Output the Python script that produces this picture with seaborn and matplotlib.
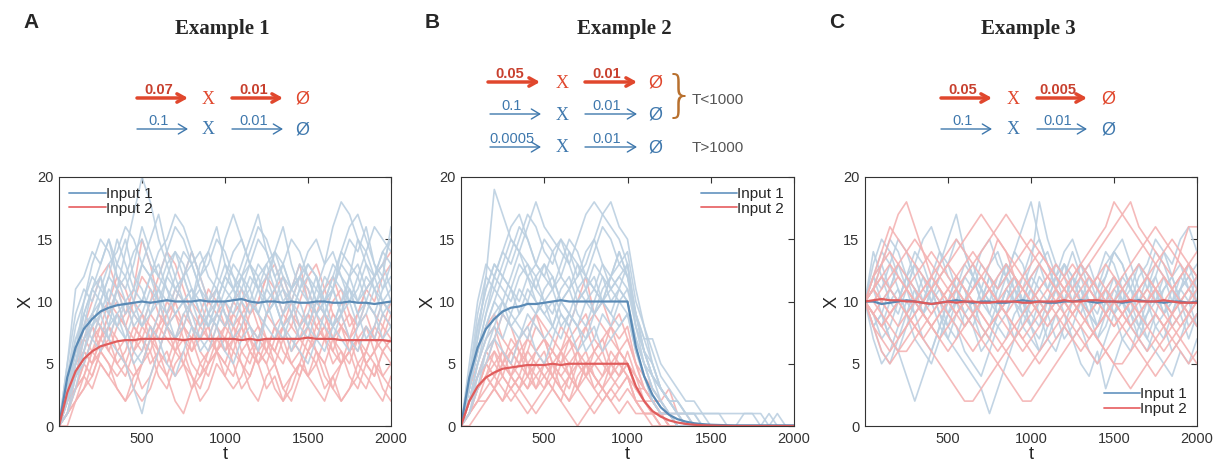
import numpy as np
import pandas as pd
import matplotlib
matplotlib.use("Agg")
import matplotlib.pyplot as plt
from matplotlib.lines import Line2D
import seaborn as sns

# ---------------- data ----------------
t_grid = list(range(0, 2001, 50))

A_in1 = [
 [0,3,6,9,11,12,10,13,15,12,11,9,10,12,14,13,11,10,8,9,11,13,12,10,9,11,14,16,13,11,10,12,9,8,10,12,15,13,11,12,10],
 [0,2,5,7,8,10,12,11,9,10,13,15,17,14,12,10,11,9,8,10,12,11,13,15,17,14,12,10,11,13,12,10,9,11,14,13,12,10,9,11,13],
 [0,4,7,8,11,13,15,12,10,9,8,10,11,9,7,8,10,12,14,16,13,11,10,9,11,10,8,7,9,11,13,12,10,11,9,10,12,14,16,15,14],
 [0,1,4,6,9,10,8,11,14,17,20,18,15,13,11,12,14,12,10,11,9,8,10,12,11,13,14,12,10,9,8,10,11,13,12,11,9,10,12,13,11],
 [0,3,5,8,7,9,11,10,8,6,5,7,9,12,11,10,9,7,6,8,10,9,11,10,12,13,11,9,10,8,7,9,10,12,11,10,8,9,11,10,9],
 [0,2,6,10,12,11,13,14,16,15,13,12,14,15,17,16,14,12,13,15,14,12,11,13,15,14,12,13,11,12,14,15,13,16,18,17,15,14,12,13,15],
 [0,2,4,5,7,6,8,9,7,5,6,8,7,5,4,6,8,7,9,8,6,5,7,8,6,9,10,8,7,6,5,7,6,8,9,7,6,8,7,9,8],
 [0,5,9,11,10,12,9,8,10,11,13,12,10,9,11,12,10,13,14,12,11,10,12,13,11,9,10,8,9,11,12,10,9,11,13,12,10,11,12,10,11],
 [0,3,7,9,8,10,12,15,13,11,10,12,11,13,14,12,10,11,9,10,12,14,15,13,11,12,10,11,9,7,8,10,12,11,13,15,14,16,13,12,16],
 [0,1,3,6,8,9,7,6,5,3,1,4,6,8,9,10,11,9,8,10,12,11,9,8,7,9,10,12,11,10,8,7,9,8,10,11,9,7,8,10,9],
 [0,4,8,10,13,15,14,12,11,13,16,14,12,11,10,12,13,11,10,12,15,17,15,13,12,10,11,13,15,14,12,11,13,14,12,10,11,13,12,14,13],
 [0,2,5,9,11,10,9,11,12,10,8,9,11,10,12,14,13,11,9,8,10,11,12,14,16,15,13,11,10,12,11,9,10,12,14,16,17,15,13,11,12],
 [0,3,6,8,9,11,10,8,7,9,10,12,13,11,9,10,8,6,7,9,8,10,12,11,9,8,7,9,11,12,10,9,8,7,9,11,10,12,11,9,10],
 [0,5,11,12,14,13,15,13,12,14,15,13,12,14,16,15,13,14,12,11,13,12,10,11,13,12,14,13,11,12,13,12,10,11,9,12,13,11,12,14,15],
 [0,2,4,7,9,8,7,9,10,8,9,11,10,8,7,9,10,8,9,11,9,7,8,10,9,11,10,8,6,8,9,11,10,8,7,6,8,10,9,7,8],
]
A_in2 = [
 [0,2,4,6,5,7,8,6,5,7,9,8,6,5,7,8,10,9,7,6,5,7,8,6,7,9,8,6,5,4,6,7,8,6,5,7,8,9,7,6,7],
 [0,1,3,5,7,9,10,12,11,9,8,10,12,14,13,11,9,8,10,11,9,8,7,9,10,12,11,9,8,10,12,13,11,9,8,7,9,11,10,12,13],
 [0,2,3,4,3,5,4,3,2,4,5,6,4,3,5,6,4,2,3,5,4,6,5,3,2,4,5,3,2,4,6,5,3,4,2,3,5,4,3,2,4],
 [0,3,5,6,8,7,9,11,10,8,7,6,8,9,11,10,8,7,9,8,6,7,9,10,8,7,6,8,10,12,11,9,7,8,9,7,6,8,7,9,8],
 [0,1,2,4,6,5,4,6,7,5,3,4,6,8,7,5,4,3,5,6,8,7,5,4,6,7,5,3,4,5,7,6,4,3,5,6,7,5,4,6,5],
 [0,2,5,8,10,12,13,11,9,10,12,11,9,8,10,12,14,12,10,9,8,10,11,9,10,12,13,11,9,8,10,9,11,12,10,8,9,11,12,13,14],
 [0,0,2,3,5,6,5,3,2,3,5,7,6,4,2,1,3,5,4,6,7,5,3,4,6,5,3,2,4,5,4,6,5,3,2,3,4,6,5,3,2],
 [0,3,6,7,6,8,7,9,8,6,7,5,6,8,7,9,8,6,5,7,6,8,9,7,6,5,7,8,6,7,9,8,7,6,8,7,5,6,8,7,6],
 [0,2,4,5,4,6,8,7,5,4,5,7,9,8,6,7,5,4,6,8,7,6,8,10,9,7,6,5,7,6,4,5,7,9,8,6,7,5,4,6,7],
 [0,1,3,4,6,7,6,8,9,11,15,13,10,8,9,7,6,8,7,9,10,8,6,5,7,6,8,9,11,13,10,8,7,5,6,4,3,5,6,4,5],
 [0,3,5,7,9,8,10,9,8,10,9,7,8,10,9,8,7,9,11,10,8,9,10,8,7,9,11,12,10,8,9,7,8,10,11,9,8,10,9,8,10],
 [0,1,2,3,4,6,5,4,5,3,2,3,5,4,6,5,3,4,5,6,4,3,4,6,5,3,4,2,3,5,4,3,2,4,5,6,4,3,5,4,3],
 [0,2,4,7,8,6,7,5,6,8,7,9,8,7,6,8,7,5,6,7,8,10,9,7,8,6,5,7,8,7,6,8,9,7,6,5,7,8,6,7,9],
 [0,2,3,5,7,8,6,5,4,6,8,7,5,6,4,5,7,9,8,6,5,4,6,7,5,6,8,7,5,6,8,10,9,7,5,6,7,5,6,8,7],
 [0,1,4,6,5,7,9,10,8,7,6,8,7,9,10,8,6,7,8,6,7,9,8,6,5,7,6,8,9,7,8,6,5,7,8,9,7,6,8,10,9],
]
B_in1 = [
 [0,4,8,11,13,12,14,16,15,13,12,14,15,13,11,12,14,16,15,13,14,10,8,6,4,3,2,1,1,0,0,0,0,0,0,0,0,0,0,0,0],
 [0,3,7,12,19,17,15,14,16,18,16,15,14,13,15,17,18,17,16,15,13,9,6,4,3,2,1,0,0,0,0,0,0,0,0,0,0,0,0,0,0],
 [0,2,5,7,9,10,8,9,11,10,9,8,10,11,9,8,10,12,11,10,9,7,5,3,2,1,1,0,0,0,0,0,0,0,0,0,0,0,0,0,0],
 [0,4,9,12,11,13,15,14,12,11,13,12,10,11,13,12,11,10,12,14,12,8,5,3,2,1,0,0,0,0,0,0,0,0,0,0,0,0,0,0,0],
 [0,1,4,6,8,7,9,8,7,9,10,8,7,9,8,6,7,9,8,10,11,9,7,7,5,4,3,2,2,1,1,1,1,1,1,1,1,0,1,0,0],
 [0,3,6,9,11,10,12,14,13,11,10,9,11,12,10,11,13,12,10,11,13,8,6,4,2,1,0,0,0,0,0,0,0,0,0,0,0,0,0,0,0],
 [0,2,5,8,10,12,11,9,10,12,13,11,9,8,10,11,9,10,12,14,12,9,6,4,3,2,1,1,0,0,0,0,0,0,0,0,0,0,0,0,0],
 [0,5,10,13,12,14,16,17,15,13,12,11,13,15,14,12,11,13,12,11,10,7,5,3,2,1,1,1,0,0,0,0,0,0,0,0,0,0,0,0,0],
 [0,2,4,5,7,6,5,7,8,6,5,7,9,8,6,7,8,6,7,8,9,6,4,2,1,1,0,0,0,0,0,0,0,0,0,0,0,0,0,0,0],
 [0,3,6,8,10,9,11,13,12,10,9,10,8,9,11,10,9,11,12,13,12,9,6,5,3,2,2,1,1,1,0,0,0,0,0,0,0,1,0,0,0],
 [0,3,6,9,12,14,13,15,17,16,14,13,15,14,12,13,15,17,18,16,15,11,8,5,3,2,1,0,0,0,0,0,0,0,0,0,0,0,0,0,0],
 [0,2,5,7,8,10,9,11,10,9,11,12,10,9,8,10,11,10,9,11,10,7,5,4,3,2,1,1,1,1,1,1,0,0,1,1,0,0,0,0,0],
 [0,4,7,10,12,11,10,12,13,12,10,11,12,14,13,11,12,10,11,12,13,9,7,5,3,2,1,0,0,0,0,0,0,0,0,0,0,0,0,0,0],
 [0,1,3,6,7,9,8,7,9,8,7,8,10,9,8,7,9,10,9,8,9,6,4,2,1,1,0,0,0,0,0,0,0,0,0,0,0,0,0,0,0],
 [0,3,8,11,13,12,11,10,12,13,15,14,12,11,12,14,15,13,11,12,11,8,6,4,3,2,2,1,1,0,0,0,0,0,0,0,0,0,0,0,0],
]
B_in2 = [
 [0,2,3,4,5,6,4,3,5,6,7,5,4,3,5,6,4,3,5,4,5,3,2,1,1,0,0,0,0,0,0,0,0,0,0,0,0,0,0,0,0],
 [0,1,3,5,7,9,8,6,7,9,8,7,6,8,10,12,9,8,7,6,7,5,3,2,1,1,0,0,0,0,0,0,0,0,0,0,0,0,0,0,0],
 [0,1,2,2,3,4,3,2,1,2,3,4,3,2,3,2,1,2,3,2,3,2,1,1,0,0,0,0,0,0,0,0,0,0,0,0,0,0,0,0,0],
 [0,2,4,6,5,4,6,7,5,4,3,5,6,4,3,5,6,7,5,4,6,4,3,2,1,1,0,0,0,0,0,0,0,0,0,0,0,0,0,0,0],
 [0,0,1,2,3,2,4,3,2,1,2,3,2,1,0,1,2,3,2,1,2,1,1,0,0,0,0,0,0,0,0,0,0,0,0,0,0,0,0,0,0],
 [0,3,5,7,8,6,5,7,8,9,7,6,8,7,6,8,9,10,8,7,8,5,4,3,2,1,1,0,0,0,0,0,0,0,0,0,0,0,0,0,0],
 [0,1,3,4,3,5,4,6,5,3,4,5,3,4,6,5,4,3,4,5,4,3,2,2,1,0,0,0,0,0,0,0,0,0,0,0,0,0,0,0,0],
 [0,2,3,5,4,3,2,3,4,5,6,4,3,2,4,5,3,2,3,4,5,3,3,2,2,3,1,1,0,0,0,0,0,0,0,0,0,0,0,0,0],
 [0,1,2,3,4,5,6,5,4,6,7,5,4,5,6,4,5,6,4,3,4,2,1,1,0,0,0,0,0,0,0,0,0,0,0,0,0,0,0,0,0],
 [0,2,4,5,6,4,3,4,6,5,4,3,5,6,7,8,6,5,4,6,5,3,2,1,1,0,0,0,0,0,0,0,0,0,0,0,0,0,0,0,0],
 [0,2,4,6,7,5,4,5,7,6,5,4,6,7,5,4,6,7,8,6,5,4,3,2,1,0,0,0,0,0,0,0,0,0,0,0,0,0,0,0,0],
 [0,1,2,4,3,2,3,4,3,5,4,3,2,4,3,5,4,3,2,3,4,2,1,1,0,0,0,0,0,0,0,0,0,0,0,0,0,0,0,0,0],
 [0,3,6,8,9,7,6,5,6,8,7,6,5,7,8,9,7,6,8,9,7,5,3,2,1,1,0,0,0,0,0,0,0,0,0,0,0,0,0,0,0],
 [0,1,3,5,4,6,5,4,3,4,5,6,5,4,5,4,3,4,6,5,4,2,2,1,1,0,0,0,0,0,0,0,0,0,0,0,0,0,0,0,0],
 [0,2,3,4,6,5,7,6,4,3,5,4,6,5,3,4,5,4,5,6,5,4,2,1,1,1,0,0,0,0,0,0,0,0,0,0,0,0,0,0,0],
]
C_in1 = [
 [10,12,14,13,11,9,10,12,11,9,8,10,12,13,11,10,9,11,12,10,8,7,9,11,13,12,10,9,11,12,14,13,11,10,8,9,11,12,10,9,11],
 [10,8,6,5,7,9,11,10,12,14,13,11,9,10,8,7,9,11,10,12,14,15,13,11,10,12,11,9,8,10,9,7,6,8,10,11,9,10,12,11,10],
 [10,11,9,7,6,4,2,4,6,8,10,12,11,9,7,8,10,12,14,13,11,10,9,11,13,12,10,8,7,9,10,12,11,9,10,8,7,9,11,10,12],
 [10,13,15,14,12,11,13,15,16,14,12,11,10,12,14,15,13,12,14,16,18,15,13,11,10,12,13,11,12,14,13,11,10,12,13,15,14,12,13,11,12],
 [10,9,8,10,11,9,7,6,5,7,9,8,6,5,4,6,8,9,7,8,10,9,7,6,8,7,5,4,6,3,5,7,8,9,7,6,5,4,6,5,7],
 [10,11,12,10,9,11,13,12,10,11,9,10,12,11,13,12,10,9,11,10,12,11,10,12,13,11,10,12,11,9,10,11,12,10,11,13,12,10,11,12,10],
 [10,7,5,6,8,10,9,7,6,8,10,11,9,8,10,12,11,13,12,10,9,8,10,11,9,7,8,6,5,7,9,10,8,7,9,11,10,8,9,7,9],
 [10,12,11,13,15,14,12,10,11,9,7,6,5,4,3,1,3,5,7,9,10,12,11,13,12,10,9,11,10,12,14,13,11,10,12,11,9,10,11,13,12],
 [10,8,9,11,10,12,11,9,8,7,9,10,8,9,11,10,12,13,11,9,8,10,9,7,8,10,11,9,8,10,9,11,10,8,9,10,12,11,9,10,8],
 [10,14,12,11,13,12,10,9,11,13,15,17,14,12,10,11,9,10,12,11,13,18,15,13,12,14,12,10,9,11,12,10,9,11,10,12,14,13,15,16,14],
 [10,12,13,11,10,12,14,13,11,10,9,11,13,12,10,9,11,12,10,9,11,13,14,12,10,11,13,12,10,11,9,10,12,13,11,12,10,9,11,12,13],
 [10,9,7,8,10,12,11,9,10,8,7,9,10,12,11,9,8,7,9,10,8,6,7,9,10,12,11,10,8,9,11,10,9,7,6,8,9,11,10,8,9],
 [10,11,13,15,14,12,13,11,10,12,13,15,14,12,11,13,14,12,11,10,12,13,11,12,14,15,13,12,11,13,14,15,13,11,12,14,13,11,12,13,11],
 [10,8,9,7,6,8,10,9,11,10,8,7,9,8,6,7,9,11,10,8,7,6,8,9,7,8,10,9,7,8,10,11,9,8,7,9,8,6,7,9,8],
 [10,12,10,11,13,11,9,10,12,11,10,12,11,9,10,12,11,13,12,10,11,9,10,12,11,10,12,13,11,10,12,10,11,13,12,10,11,12,10,11,10],
]
C_in2 = [
 [10,11,13,15,17,18,16,14,12,11,10,9,10,11,12,13,15,14,12,11,10,9,8,9,10,11,12,13,14,15,16,17,18,16,15,14,13,12,14,16,16],
 [10,9,8,7,6,6,7,8,9,10,11,12,11,10,9,8,7,6,5,4,5,6,7,8,9,10,9,8,7,6,5,5,6,7,8,9,8,7,6,5,6],
 [10,10,11,12,13,14,15,14,13,12,11,10,9,8,7,6,5,4,3,2,2,3,4,5,6,7,8,9,10,11,12,11,10,9,8,7,6,7,8,9,10],
 [10,9,10,11,12,11,10,9,8,9,10,11,12,13,14,15,16,17,16,15,14,13,12,11,10,9,8,7,8,9,10,11,12,13,12,11,10,11,12,13,12],
 [10,11,12,11,10,9,8,7,6,5,4,3,2,2,3,4,5,6,7,8,9,10,11,10,9,8,7,6,5,6,7,8,9,10,11,10,9,8,7,6,5],
 [10,12,14,16,15,14,13,12,11,12,13,14,15,16,17,16,15,14,13,12,11,10,9,10,11,12,13,14,15,16,18,17,16,15,14,13,12,11,12,13,14],
 [10,8,7,6,7,8,9,10,11,12,13,12,11,10,9,8,9,10,11,12,13,14,13,12,11,10,9,8,7,6,5,4,3,4,5,6,7,8,9,10,11],
 [10,10,9,8,7,8,9,10,11,10,9,8,7,6,7,8,9,8,7,6,7,8,9,10,11,12,13,12,11,10,9,8,7,6,5,4,5,6,7,8,9],
 [10,11,10,9,10,11,12,13,14,13,12,11,10,11,12,11,10,9,10,11,12,13,12,11,10,9,10,11,12,13,12,11,10,9,10,11,12,11,10,9,10],
 [10,9,8,9,10,9,8,7,8,9,10,11,10,9,8,7,6,7,8,9,10,11,12,11,10,9,10,11,10,9,8,9,10,11,12,13,14,15,14,13,12],
 [10,11,12,13,12,11,10,11,12,13,14,15,14,13,12,11,10,11,12,11,10,9,10,11,12,13,12,11,10,9,8,9,10,11,12,11,10,9,10,11,12],
 [10,9,8,9,10,11,10,9,8,7,8,9,10,11,12,11,10,9,8,7,8,9,10,9,8,7,6,7,8,9,10,9,8,9,10,11,10,9,8,9,10],
 [10,12,13,14,13,12,11,10,9,10,11,12,13,14,13,12,11,12,13,14,15,14,13,12,11,10,11,12,11,10,11,12,13,14,15,16,15,14,13,12,11],
 [10,8,6,5,6,7,8,9,8,7,6,7,8,9,10,11,10,9,8,7,6,5,6,7,8,9,10,11,12,11,10,9,8,7,6,7,8,9,10,9,8],
 [10,11,10,9,8,9,10,11,12,11,10,9,8,9,10,11,12,13,12,11,10,11,12,13,12,11,10,9,10,11,10,9,10,11,10,9,8,9,10,11,10],
]

A_mean1 = [0,3.9,6.3,7.8,8.6,9.2,9.5,9.7,9.8,9.9,10.0,9.9,10.0,10.1,10.0,10.0,10.0,10.1,10.0,10.0,10.0,10.1,10.2,10.0,9.9,10.0,10.0,9.9,10.0,9.9,9.9,10.0,10.0,9.9,9.9,10.0,9.9,9.9,9.8,9.9,10.0]
A_mean2 = [0,2.7,4.4,5.4,6.0,6.4,6.6,6.8,6.9,6.9,7.0,7.0,7.0,7.0,7.0,6.9,7.0,7.0,7.0,7.0,7.0,7.0,6.9,7.0,6.9,7.0,7.0,7.0,7.0,7.0,7.1,7.0,7.0,7.0,6.9,6.9,6.9,6.9,6.9,6.9,6.8]
B_mean1 = [0,3.9,6.3,7.8,8.6,9.2,9.5,9.6,9.8,9.8,9.9,10.0,10.1,10.0,10.0,10.0,10.0,10.0,10.0,10.0,10.0,6.4,4.0,2.5,1.5,0.9,0.55,0.35,0.22,0.15,0.1,0.08,0.06,0.05,0.05,0.05,0.05,0.05,0.05,0.05,0.05]
B_mean2 = [0,2.0,3.2,3.9,4.3,4.6,4.7,4.8,4.9,4.9,4.9,5.0,4.9,5.0,5.0,5.0,5.0,5.0,5.0,5.0,5.0,3.2,2.0,1.2,0.75,0.45,0.28,0.17,0.1,0.06,0.04,0.02,0.01,0,0,0,0,0,0,0,0]
C_mean1 = [10,10.0,9.8,9.9,10.0,10.1,10.0,9.9,9.8,9.9,10.0,10.1,10.0,9.9,10.0,10.0,9.9,9.9,10.0,10.1,10.0,10.0,9.9,9.9,10.0,10.0,10.1,10.0,9.9,10.0,10.0,9.9,10.0,10.1,10.0,10.0,9.9,10.0,10.0,9.9,10.0]
C_mean2 = [10,10.1,10.2,10.1,10.1,10.0,10.0,9.9,9.8,9.9,10.0,9.9,10.0,10.0,9.9,9.9,10.0,10.0,10.0,9.9,9.9,10.0,10.0,10.0,10.1,10.0,10.0,10.1,10.1,10.0,10.0,10.0,10.1,10.0,10.0,10.0,10.1,10.0,9.9,9.9,9.9]

panel_titles = ["Example 1", "Example 2", "Example 3"]
panel_letters = ["A", "B", "C"]
legend_labels = ["Input 1", "Input 2"]
x_ticks = [500, 1000, 1500, 2000]
y_ticks = [0, 5, 10, 15, 20]

# ---------------- style ----------------
sns.set_theme(style="white")
plt.rcParams['font.family'] = ['Liberation Sans', 'DejaVu Sans']

LIGHT_BLUE = "#bcd0e1"
LIGHT_RED = "#f4b3b3"
MEAN_BLUE = "#5a8ab5"
MEAN_RED = "#e05c5c"
SCH_RED = "#e0472d"
SCH_RED_TXT = "#c8402e"
SCH_BLUE = "#3f78ad"

W, H = 1219, 471
fig = plt.figure(figsize=(W / 100, H / 100), dpi=100)

def fx(px):
    return px / W

def fy(py):
    return 1 - py / H

axes_px = [(59, 391), (461, 794), (865, 1197)]
top_px, bot_px = 177, 426

def long_df(runs):
    rows = []
    for i, r in enumerate(runs):
        for t, v in zip(t_grid, r):
            rows.append((i, t, v))
    return pd.DataFrame(rows, columns=["run", "t", "X"])

panels = [
    (A_in1, A_in2, A_mean1, A_mean2, "upper left"),
    (B_in1, B_in2, B_mean1, B_mean2, "upper right"),
    (C_in1, C_in2, C_mean1, C_mean2, "lower right"),
]

for k, (r1, r2, m1, m2, loc) in enumerate(panels):
    x0, x1 = axes_px[k]
    ax = fig.add_axes([fx(x0), fy(bot_px), fx(x1 - x0), (bot_px - top_px) / H])
    d1 = long_df(r1)
    d2 = long_df(r2)
    if k == 2:
        order = [(d1, LIGHT_BLUE), (d2, LIGHT_RED)]
    else:
        order = [(d2, LIGHT_RED), (d1, LIGHT_BLUE)]
    for d, c in order:
        sns.lineplot(data=d, x="t", y="X", units="run", estimator=None,
                     color=c, lw=1.2, alpha=0.9, ax=ax, legend=False)
    dm = pd.DataFrame({"t": t_grid, "Input 1": m1, "Input 2": m2})
    sns.lineplot(data=dm, x="t", y="Input 1", color=MEAN_BLUE, lw=1.6, ax=ax, legend=False)
    sns.lineplot(data=dm, x="t", y="Input 2", color=MEAN_RED, lw=1.6, ax=ax, legend=False)

    ax.set_xlim(0, 2000)
    ax.set_ylim(0, 20)
    ax.set_xticks(x_ticks)
    ax.set_yticks(y_ticks)
    ax.tick_params(direction="in", top=True, right=True, length=4, width=0.8,
                   labelsize=10.5, colors="#333333", pad=4)
    for s in ax.spines.values():
        s.set_color("#333333")
        s.set_linewidth(0.8)
    ax.set_xlabel("t", fontsize=13, labelpad=0)
    ax.set_ylabel("X", fontsize=13, labelpad=2)

    handles = [Line2D([], [], color="#6e9bc4", lw=1.3), Line2D([], [], color="#e8696b", lw=1.3)]
    ax.legend(handles, legend_labels, loc=loc, frameon=False, fontsize=11,
              handlelength=2.4, handletextpad=0.0, labelspacing=0.05,
              borderaxespad=0.25)

    fig.text(fx(x0 - 36), fy(22), panel_letters[k], fontsize=15, fontweight="bold",
             ha="left", va="center")
    fig.text(fx((x0 + x1) / 2 - 3), fy(29), panel_titles[k], fontsize=15,
             fontweight="bold", family="Liberation Serif", ha="center", va="center")

# ---------------- reaction schemes ----------------
ann_ax = fig.axes[0]

def reaction(xa, xb, xX, xc, xd, xO, y, r1, r2, color, lw, head, txtcolor, bold):
    for (a, b, lab) in [(xa, xb, r1), (xc, xd, r2)]:
        ann_ax.annotate("", xy=(fx(b), fy(y)), xytext=(fx(a), fy(y)),
                        xycoords="figure fraction", textcoords="figure fraction",
                        arrowprops=dict(arrowstyle=head, color=color, lw=lw,
                                        shrinkA=0, shrinkB=0), annotation_clip=False)
        fig.text(fx((a + b) / 2 - 4), fy(y - 1), lab, color=txtcolor, fontsize=10.5,
                 ha="center", va="bottom", fontweight="bold" if bold else "normal")
    fig.text(fx(xX), fy(y + 1), "X", family="Liberation Serif", color=color,
             fontsize=13, ha="center", va="center")
    fig.text(fx(xO), fy(y + 1), "Ø", color=color, fontsize=13, ha="center", va="center")

RED_HEAD = "->,head_length=0.45,head_width=0.25"
BLUE_HEAD = "->,head_length=0.5,head_width=0.3"

# Example 1
reaction(137, 188, 208, 232, 283, 302, 98, "0.07", "0.01", SCH_RED, 2.5, RED_HEAD, SCH_RED_TXT, True)
reaction(137, 188, 208, 232, 283, 302, 129, "0.1", "0.01", SCH_BLUE, 1.0, BLUE_HEAD, SCH_BLUE, False)
# Example 2
reaction(488, 540, 562, 585, 637, 655, 82, "0.05", "0.01", SCH_RED, 2.5, RED_HEAD, SCH_RED_TXT, True)
reaction(490, 541, 562, 585, 637, 655, 114, "0.1", "0.01", SCH_BLUE, 1.0, BLUE_HEAD, SCH_BLUE, False)
reaction(490, 541, 562, 585, 637, 655, 147, "0.0005", "0.01", SCH_BLUE, 1.0, BLUE_HEAD, SCH_BLUE, False)
fig.text(fx(679), fy(97), "}", color="#b8702e", fontsize=36, ha="center", va="center",
         family="DejaVu Sans", fontweight="light")
fig.text(fx(692), fy(100), "T<1000", color="#555555", fontsize=11, ha="left", va="center")
fig.text(fx(692), fy(148), "T>1000", color="#555555", fontsize=11, ha="left", va="center")
# Example 3
reaction(941, 992, 1013, 1037, 1087, 1108, 98, "0.05", "0.005", SCH_RED, 2.5, RED_HEAD, SCH_RED_TXT, True)
reaction(941, 992, 1013, 1037, 1087, 1108, 129, "0.1", "0.01", SCH_BLUE, 1.0, BLUE_HEAD, SCH_BLUE, False)

fig.savefig("out.png", dpi=100)
